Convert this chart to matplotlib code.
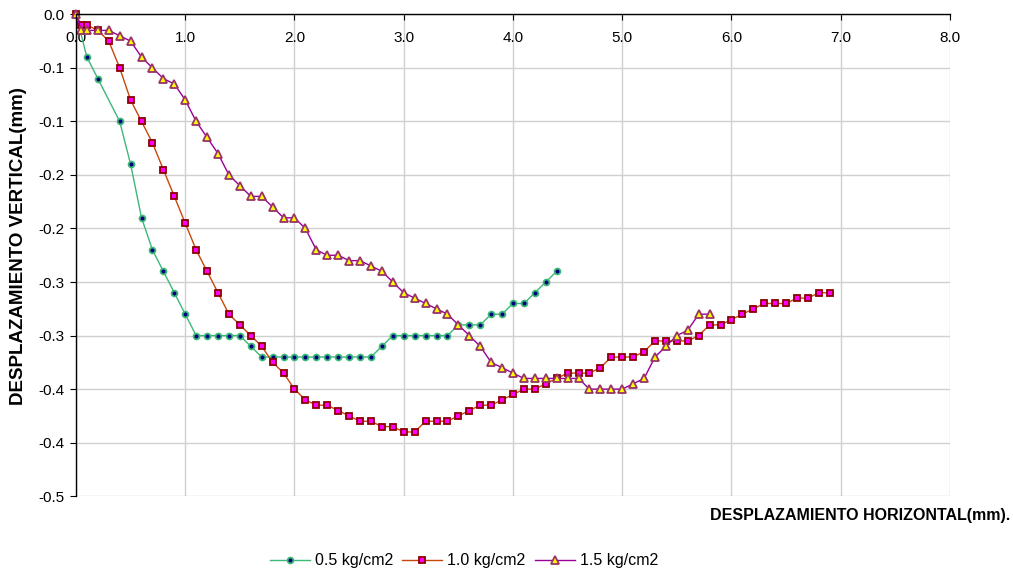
import matplotlib
matplotlib.use("Agg")
import matplotlib.pyplot as plt

plt.rcParams['font.family'] = ['Liberation Sans', 'DejaVu Sans']

# 0.5 kg/cm2
x_05 = [0.0, 0.1, 0.2, 0.4, 0.5, 0.6, 0.7, 0.8, 0.9, 1.0,
        1.1, 1.2, 1.3, 1.4, 1.5, 1.6, 1.7, 1.8, 1.9, 2.0,
        2.1, 2.2, 2.3, 2.4, 2.5, 2.6, 2.7, 2.8, 2.9, 3.0,
        3.1, 3.2, 3.3, 3.4, 3.5, 3.6, 3.7, 3.8, 3.9, 4.0,
        4.1, 4.2, 4.3, 4.4]
y_05 = [0.0, -0.04, -0.06, -0.10, -0.14, -0.19, -0.22, -0.24, -0.26, -0.28,
        -0.30, -0.30, -0.30, -0.30, -0.30, -0.31, -0.32, -0.32, -0.32, -0.32,
        -0.32, -0.32, -0.32, -0.32, -0.32, -0.32, -0.32, -0.31, -0.30, -0.30,
        -0.30, -0.30, -0.30, -0.30, -0.29, -0.29, -0.29, -0.28, -0.28, -0.27,
        -0.27, -0.26, -0.25, -0.24]

# 1.0 kg/cm2
x_10 = [0.0, 0.05, 0.1, 0.2, 0.3, 0.4, 0.5, 0.6, 0.7, 0.8, 0.9,
        1.0, 1.1, 1.2, 1.3, 1.4, 1.5, 1.6, 1.7, 1.8, 1.9,
        2.0, 2.1, 2.2, 2.3, 2.4, 2.5, 2.6, 2.7, 2.8, 2.9,
        3.0, 3.1, 3.2, 3.3, 3.4, 3.5, 3.6, 3.7, 3.8, 3.9,
        4.0, 4.1, 4.2, 4.3, 4.4, 4.5, 4.6, 4.7, 4.8, 4.9,
        5.0, 5.1, 5.2, 5.3, 5.4, 5.5, 5.6, 5.7, 5.8, 5.9,
        6.0, 6.1, 6.2, 6.3, 6.4, 6.5, 6.6, 6.7, 6.8, 6.9]
y_10 = [0.0, -0.01, -0.01, -0.015, -0.025, -0.05, -0.08, -0.10, -0.12, -0.145, -0.17,
        -0.195, -0.22, -0.24, -0.26, -0.28, -0.29, -0.30, -0.31, -0.325, -0.335,
        -0.35, -0.36, -0.365, -0.365, -0.37, -0.375, -0.38, -0.38, -0.385, -0.385,
        -0.39, -0.39, -0.38, -0.38, -0.38, -0.375, -0.37, -0.365, -0.365, -0.36,
        -0.355, -0.35, -0.35, -0.345, -0.34, -0.335, -0.335, -0.335, -0.33, -0.32,
        -0.32, -0.32, -0.315, -0.305, -0.305, -0.305, -0.305, -0.30, -0.29, -0.29,
        -0.285, -0.28, -0.275, -0.27, -0.27, -0.27, -0.265, -0.265, -0.26, -0.26]

# 1.5 kg/cm2
x_15 = [0.0, 0.05, 0.1, 0.2, 0.3, 0.4, 0.5, 0.6, 0.7, 0.8, 0.9,
        1.0, 1.1, 1.2, 1.3, 1.4, 1.5, 1.6, 1.7, 1.8, 1.9,
        2.0, 2.1, 2.2, 2.3, 2.4, 2.5, 2.6, 2.7, 2.8, 2.9,
        3.0, 3.1, 3.2, 3.3, 3.4, 3.5, 3.6, 3.7, 3.8, 3.9,
        4.0, 4.1, 4.2, 4.3, 4.4, 4.5, 4.6, 4.7, 4.8, 4.9,
        5.0, 5.1, 5.2, 5.3, 5.4, 5.5, 5.6, 5.7, 5.8]
y_15 = [0.0, -0.015, -0.015, -0.015, -0.015, -0.02, -0.025, -0.04, -0.05, -0.06, -0.065,
        -0.08, -0.10, -0.115, -0.13, -0.15, -0.16, -0.17, -0.17, -0.18, -0.19,
        -0.19, -0.20, -0.22, -0.225, -0.225, -0.23, -0.23, -0.235, -0.24, -0.25,
        -0.26, -0.265, -0.27, -0.275, -0.28, -0.29, -0.30, -0.31, -0.325, -0.33,
        -0.335, -0.34, -0.34, -0.34, -0.34, -0.34, -0.34, -0.35, -0.35, -0.35,
        -0.35, -0.345, -0.34, -0.32, -0.31, -0.30, -0.295, -0.28, -0.28]

x_ticks = [0, 1, 2, 3, 4, 5, 6, 7, 8]
x_tick_labels = ['0.0', '1.0', '2.0', '3.0', '4.0', '5.0', '6.0', '7.0', '8.0']
y_ticks = [0.0, -0.05, -0.10, -0.15, -0.20, -0.25, -0.30, -0.35, -0.40, -0.45]
y_tick_labels = ['0.0', '-0.1', '-0.1', '-0.2', '-0.2', '-0.3', '-0.3', '-0.4', '-0.4', '-0.5']

fig = plt.figure(figsize=(10.13, 5.73), dpi=100)
ax = fig.add_axes([0.075, 0.134, 0.8628, 0.841])

ax.plot(x_05, y_05, color='#3cb878', lw=1, marker='o', ms=4.2,
        mfc='#000080', mec='#3cb878', mew=1.3, label='0.5 kg/cm2', clip_on=False)
ax.plot(x_10, y_10, color='#c8460a', lw=1, marker='s', ms=4.8,
        mfc='#ff00ff', mec='#8b0000', mew=1.3, label='1.0 kg/cm2', clip_on=False)
ax.plot(x_15, y_15, color='#990099', lw=1, marker='^', ms=5.2,
        mfc='#ffff00', mec='#993366', mew=1.3, label='1.5 kg/cm2', clip_on=False)

ax.set_xlim(0, 8)
ax.set_ylim(-0.45, 0)
ax.set_xticks(x_ticks)
ax.set_xticklabels(x_tick_labels)
ax.set_yticks(y_ticks)
ax.set_yticklabels(y_tick_labels)

ax.grid(True, color='#d0d0d0', lw=1)
ax.set_axisbelow(True)

for s in ['right', 'bottom']:
    ax.spines[s].set_visible(False)
for s in ['left', 'top']:
    ax.spines[s].set_color('black')
    ax.spines[s].set_linewidth(1)
    ax.spines[s].set_zorder(2.5)

ax.xaxis.tick_top()
ax.tick_params(axis='x', direction='in', length=4, pad=-22, labelsize=11)
ax.tick_params(axis='y', direction='out', length=4, pad=4, labelsize=11)

ax.set_ylabel('DESPLAZAMIENTO VERTICAL(mm)', fontsize=13.5, fontweight='bold')
ax.yaxis.set_label_coords(-0.056, 0.52)
fig.text(0.997, 0.0995, 'DESPLAZAMIENTO HORIZONTAL(mm).', ha='right', va='center',
         fontsize=11.5, fontweight='bold')

fig.legend(loc='center', bbox_to_anchor=(0.458, 0.021), ncol=3, frameon=False,
           fontsize=11.5, handlelength=2.5, handletextpad=0.3, columnspacing=0.6)

fig.savefig('out.png', dpi=100)
